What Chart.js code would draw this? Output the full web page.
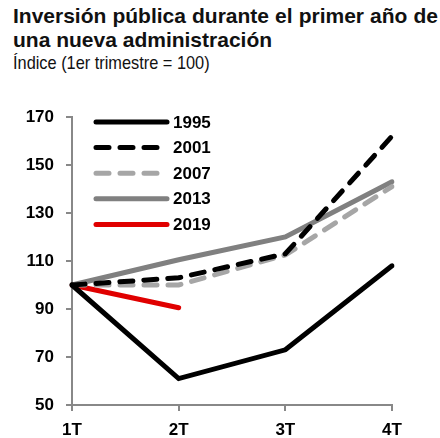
<!DOCTYPE html>
<html>
<head>
<meta charset="utf-8">
<script src="https://cdn.jsdelivr.net/npm/chart.js@4/dist/chart.umd.min.js"></script>
<style>
  body { margin: 0; background: #fff; }
  #wrap { position: relative; width: 440px; height: 438px; }
  #title { position: absolute; left: 13px; top: 4px; width: 425px; font: bold 21px "Liberation Sans", Arial, sans-serif; line-height: 24px; text-align: justify; color: #111; }
  #subtitle { position: absolute; left: 13px; top: 52px; font: 19px "Liberation Sans", Arial, sans-serif; color: #111; transform: scaleX(0.86); transform-origin: left top; white-space: nowrap; }
  canvas { position: absolute; left: 0; top: 0; }
</style>
</head>
<body>
<div id="wrap">
  <div id="title">Inversión pública durante el primer año de una nueva administración</div>
  <div id="subtitle">Índice (1er trimestre = 100)</div>
  <canvas id="chart" width="440" height="438"></canvas>
</div>
<script>
var quarters = ["1T", "2T", "3T", "4T"];
var s1995 = [100, 61, 73, 108];
var s2001 = [100, 103, 113, 162];
var s2007 = [100, 100, 112.5, 141];
var s2013 = [100, 110.5, 120, 143];
var s2019 = [100, 90.5, null, null];
var yTicks = [50, 70, 90, 110, 130, 150, 170];

var fontFam = '"Liberation Sans", Arial, sans-serif';
var tickFont = { family: fontFam, size: 17, weight: 'bold' };

// legend drawn inside the plot, top-left
var insideLegend = {
  id: 'insideLegend',
  afterDatasetsDraw: function(chart) {
    var ctx = chart.ctx;
    var x0 = 96, x1 = 167, y = 122, step = 25.6;
    ctx.save();
    chart.data.datasets.forEach(function(ds, i) {
      var yy = y + i * step;
      ctx.beginPath();
      ctx.lineWidth = ds.borderWidth;
      ctx.strokeStyle = ds.borderColor;
      ctx.lineCap = 'round';
      ctx.setLineDash(ds.borderDash || []);
      ctx.moveTo(x0, yy);
      ctx.lineTo(x1, yy);
      ctx.stroke();
      ctx.setLineDash([]);
      ctx.fillStyle = '#000';
      ctx.font = 'bold 17px ' + fontFam;
      ctx.textBaseline = 'middle';
      ctx.fillText(ds.label, 173, yy + 1);
    });
    ctx.restore();
  }
};

var common = { fill: false, tension: 0, pointRadius: 0, borderWidth: 5, borderCapStyle: 'round', borderJoinStyle: 'miter' };

new Chart(document.getElementById('chart'), {
  type: 'line',
  data: {
    labels: quarters,
    datasets: [
      Object.assign({ label: '1995', data: s1995, borderColor: '#000000' }, common),
      Object.assign({ label: '2001', data: s2001, borderColor: '#000000', borderDash: [13, 11] }, common),
      Object.assign({ label: '2007', data: s2007, borderColor: '#a6a6a6', borderDash: [13, 11] }, common),
      Object.assign({ label: '2013', data: s2013, borderColor: '#808080' }, common),
      Object.assign({ label: '2019', data: s2019, borderColor: '#e00000' }, common)
    ]
  },
  plugins: [insideLegend],
  options: {
    responsive: false,
    animation: false,
    layout: { padding: { top: 117, right: 48, left: 0, bottom: 0 } },
    plugins: { legend: { display: false }, tooltip: { enabled: false } },
    scales: {
      x: {
        offset: false,
        grid: { drawOnChartArea: false, drawTicks: true, tickLength: 6, color: '#888', lineWidth: 2 },
        border: { color: '#888', width: 2 },
        ticks: { color: '#000', font: tickFont, padding: 9, maxRotation: 0 },
        afterFit: function(s) { s.height = 33; }
      },
      y: {
        min: 50, max: 170,
        grid: { drawOnChartArea: false, drawTicks: true, tickLength: 6, color: '#888', lineWidth: 2 },
        border: { color: '#888', width: 2 },
        afterBuildTicks: function(s) { s.ticks = yTicks.map(function(v) { return { value: v }; }); },
        ticks: { color: '#000', font: tickFont, padding: 12 },
        afterFit: function(s) { s.width = 72; }
      }
    }
  }
});
</script>
</body>
</html>
